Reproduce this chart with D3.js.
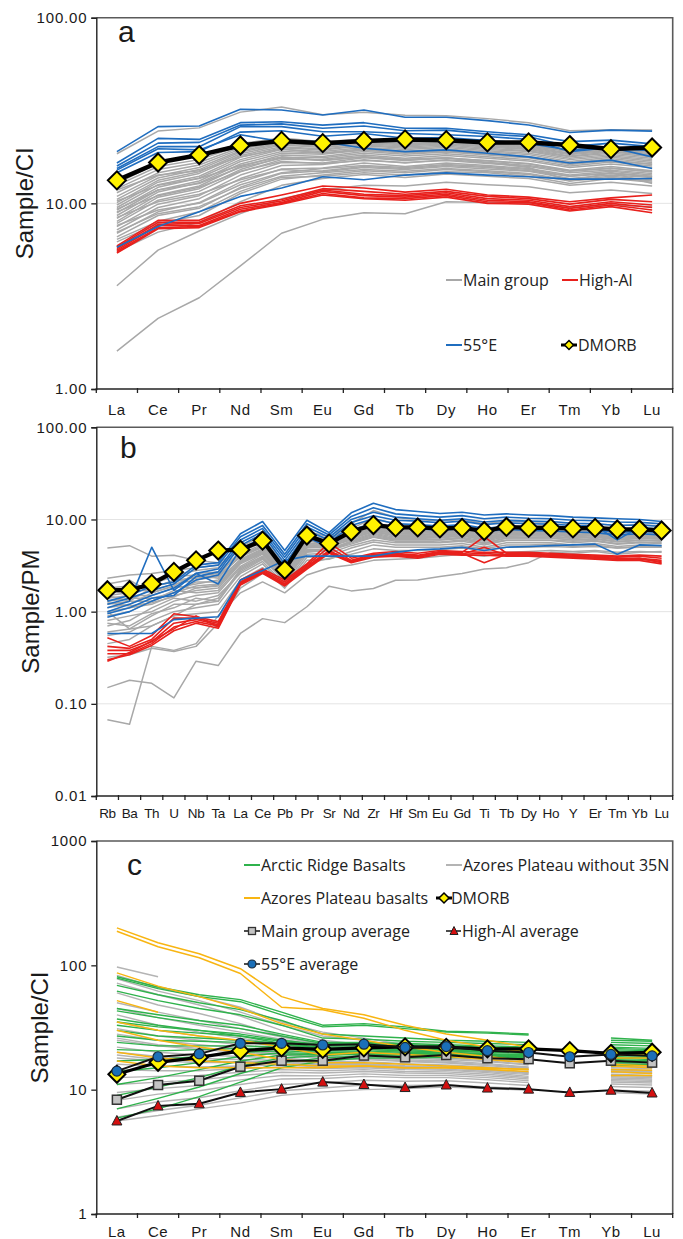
<!DOCTYPE html>
<html><head><meta charset="utf-8">
<script src="https://cdn.jsdelivr.net/npm/d3@7"></script>
<style>
body{margin:0;background:#fff;}
svg{display:block;}
</style></head><body>
<svg id="chart" width="683" height="1239"></svg>
<script>
// ---------- element lists ----------
const reeElements = ["La","Ce","Pr","Nd","Sm","Eu","Gd","Tb","Dy","Ho","Er","Tm","Yb","Lu"];
const spiderElements = ["Rb","Ba","Th","U","Nb","Ta","La","Ce","Pb","Pr","Sr","Nd","Zr","Hf","Sm","Eu","Gd","Ti","Tb","Dy","Ho","Y","Er","Tm","Yb","Lu"];

// ---------- tick labels ----------
const ticksA = [1, 10, 100];
const ticksB = [0.01, 0.1, 1, 10, 100];
const ticksC = [1, 10, 100, 1000];

// ---------- panel a : REE / chondrite ----------
const dmorbREE = [13.3, 16.6, 18.2, 20.5, 21.7, 21.1, 21.7, 22.1, 21.9, 21.3, 21.3, 20.6, 19.6, 20.0];

const mainGroupREE = [
  [1.6, 2.4, 3.1, 4.6, 6.9, 8.2, 8.9, 8.8, 10.2, 10.1, 10.0, 9.5, 9.8, 9.6],
  [3.6, 5.6, 7.1, 8.8, 10.6, 11.8, 12.5, 12.4, 13.0, 12.6, 12.3, 11.4, 11.8, 11.3],
  [5.5, 7.0, 7.9, 10.2, 12.5, 13.6, 14.3, 13.8, 14.4, 14.0, 13.6, 12.5, 13.0, 12.4],
  [6.2, 7.8, 8.6, 11.3, 13.5, 14.2, 15.0, 14.6, 15.2, 14.8, 14.3, 13.2, 13.8, 13.2],
  [6.6, 8.6, 9.4, 12.2, 14.5, 15.0, 15.8, 15.4, 16.0, 15.6, 15.0, 14.0, 14.5, 13.9],
  [6.9, 9.0, 10.1, 13.0, 15.3, 15.5, 16.5, 15.8, 16.5, 16.0, 15.4, 14.2, 14.9, 14.2],
  [7.2, 9.5, 10.6, 13.6, 16.0, 16.2, 17.2, 16.5, 17.2, 16.6, 16.0, 14.9, 15.4, 14.8],
  [7.5, 9.9, 11.0, 14.2, 16.6, 16.5, 17.6, 17.0, 17.5, 17.0, 16.4, 15.1, 15.8, 15.0],
  [7.8, 10.4, 11.6, 14.8, 17.2, 17.3, 18.2, 17.5, 18.1, 17.5, 16.9, 15.6, 16.3, 15.6],
  [8.0, 10.8, 12.0, 15.2, 17.7, 17.6, 18.6, 18.0, 18.5, 17.8, 17.2, 15.9, 16.7, 15.9],
  [8.3, 11.1, 12.4, 15.8, 18.2, 17.9, 19.0, 18.4, 18.9, 18.2, 17.6, 16.2, 17.0, 16.3],
  [8.6, 11.5, 12.9, 16.3, 18.6, 18.4, 19.4, 18.8, 19.3, 18.6, 17.9, 16.5, 17.4, 16.6],
  [8.9, 11.8, 13.2, 16.8, 19.0, 18.7, 19.7, 19.1, 19.6, 18.9, 18.3, 16.8, 17.7, 16.9],
  [9.2, 12.2, 13.7, 17.2, 19.5, 19.0, 20.0, 19.5, 20.0, 19.2, 18.6, 17.2, 18.0, 17.2],
  [9.5, 12.6, 14.0, 17.7, 19.9, 19.4, 20.4, 19.8, 20.3, 19.5, 19.0, 17.5, 18.3, 17.5],
  [9.8, 13.0, 14.5, 18.1, 20.2, 19.6, 20.6, 20.1, 20.6, 19.8, 19.2, 17.8, 18.6, 17.8],
  [10.1, 13.3, 14.8, 18.5, 20.6, 20.0, 20.9, 20.4, 20.9, 20.1, 19.5, 18.0, 18.9, 18.1],
  [10.5, 13.7, 15.2, 18.9, 20.9, 20.3, 21.2, 20.7, 21.1, 20.3, 19.7, 18.3, 19.1, 18.3],
  [10.9, 14.1, 15.6, 19.2, 21.2, 20.5, 21.4, 20.9, 21.3, 20.5, 19.9, 18.5, 19.3, 18.5],
  [11.4, 14.6, 16.1, 19.6, 21.5, 20.8, 21.6, 21.1, 21.5, 20.7, 20.1, 18.7, 19.5, 18.8],
  [12.0, 15.2, 16.6, 20.0, 21.8, 21.0, 21.8, 21.3, 21.6, 20.8, 20.3, 19.0, 19.7, 19.0],
  [12.5, 15.8, 17.2, 20.4, 22.0, 21.2, 22.0, 21.5, 21.8, 21.0, 20.5, 19.2, 19.9, 19.2],
  [8.4, 10.2, 11.2, 13.4, 15.2, 14.8, 15.6, 15.2, 15.8, 15.3, 14.9, 13.6, 14.2, 13.8],
  [7.0, 8.8, 9.6, 12.0, 14.0, 14.6, 15.2, 14.9, 15.4, 15.0, 14.5, 13.3, 14.0, 13.4],
  [9.0, 11.0, 12.2, 14.9, 16.8, 16.4, 17.0, 16.6, 17.0, 16.4, 15.8, 14.6, 15.1, 14.5],
  [10.3, 12.5, 13.6, 16.0, 17.8, 17.0, 17.8, 17.1, 17.6, 16.9, 16.3, 15.0, 15.5, 14.8],
  [6.4, 8.0, 9.0, 11.6, 13.8, 14.0, 14.6, 14.2, 14.8, 14.6, 14.0, 12.8, 13.6, 13.0],
  [11.8, 14.2, 15.0, 17.8, 19.6, 18.6, 19.4, 18.7, 19.1, 18.4, 17.7, 16.4, 17.0, 16.2],
  [18.5, 24.5, 25.5, 31.0, 33.0, 30.0, 31.0, 29.8, 29.6, 28.6, 27.2, 24.6, 24.9, 24.8],
  [9.3, 11.8, 12.8, 15.6, 17.5, 17.0, 17.8, 17.3, 17.6, 16.6, 15.6, 13.2, 14.6, 12.8],
  [7.6, 9.2, 10.0, 12.6, 14.6, 15.4, 16.0, 15.6, 16.2, 15.8, 15.2, 14.0, 14.6, 14.0],
  [12.8, 16.5, 18.0, 21.0, 22.5, 21.5, 22.2, 21.6, 22.0, 21.2, 20.7, 19.5, 20.2, 19.4]
];

const highAlREE = [
  [5.9, 8.1, 8.1, 10.0, 11.1, 12.4, 12.1, 11.5, 11.9, 11.1, 10.8, 10.2, 10.7, 11.1],
  [5.8, 7.9, 7.9, 9.7, 10.5, 12.0, 11.6, 11.2, 11.6, 10.9, 10.6, 9.9, 10.5, 10.2],
  [5.7, 7.7, 7.8, 9.5, 10.3, 11.8, 11.2, 11.0, 11.4, 10.6, 10.4, 9.6, 10.2, 9.8],
  [5.6, 7.6, 7.6, 9.3, 10.1, 11.6, 11.0, 10.8, 11.2, 10.4, 10.2, 9.4, 10.0, 9.5],
  [5.5, 7.4, 7.5, 9.1, 10.0, 11.3, 10.7, 10.6, 11.0, 10.2, 10.1, 9.2, 9.8, 9.2],
  [5.4, 7.3, 7.4, 9.0, 9.9, 11.1, 10.6, 10.4, 10.8, 10.0, 9.9, 9.1, 9.6, 8.9]
];

const e55REE = [
  [19.0, 25.9, 26.1, 32.1, 31.8, 29.9, 31.8, 29.1, 29.1, 27.9, 26.4, 24.1, 24.8, 24.5],
  [16.5, 22.4, 22.1, 27.2, 27.5, 26.4, 27.2, 25.4, 25.4, 24.3, 23.4, 21.5, 21.9, 20.9],
  [15.9, 21.1, 21.3, 26.4, 26.8, 25.4, 26.1, 24.6, 24.8, 23.6, 22.9, 20.2, 21.1, 20.2],
  [15.4, 20.2, 20.2, 25.9, 25.9, 24.3, 24.3, 23.8, 23.4, 22.9, 22.1, 19.0, 20.0, 17.8],
  [15.1, 19.7, 19.4, 23.4, 21.5, 21.5, 19.8, 19.0, 19.4, 18.6, 17.8, 16.5, 17.1, 15.4],
  [5.8, 7.5, 9.0, 10.9, 12.1, 13.9, 13.4, 14.2, 14.6, 14.2, 13.9, 13.5, 13.5, 13.6],
  [14.6, 18.8, 19.0, 24.2, 24.6, 23.0, 23.8, 22.4, 22.6, 21.8, 21.0, 19.4, 19.8, 19.2]
];

// ---------- panel b : primitive-mantle normalised ----------
const dmorbPM = [1.71, 1.71, 2.0, 2.7, 3.6, 4.6, 4.7, 5.9, 2.85, 6.7, 5.5, 7.4, 8.7, 8.2, 8.2, 8.0, 8.1, 7.5, 8.3, 8.1, 8.1, 8.0, 8.1, 7.8, 7.8, 7.6];

const mainGroupPM = [
  [0.067, 0.060, 0.42, 0.38, 0.45, 0.9, 1.6, 2.1, 1.6, 2.5, 3.0, 3.2, 3.6, 3.7, 3.8, 4.0, 4.2, 4.0, 4.4, 4.5, 4.6, 4.5, 4.6, 4.4, 4.5, 4.4],
  [0.15, 0.18, 0.167, 0.116, 0.29, 0.26, 0.58, 0.84, 0.76, 1.13, 1.89, 1.68, 1.78, 2.19, 2.2, 2.4, 2.6, 2.9, 3.0, 3.4, 4.4, 4.3, 4.5, 4.2, 4.4, 4.5],
  [0.32, 0.34, 0.40, 0.37, 0.42, 0.75, 1.8, 2.6, 2.0, 3.3, 3.8, 4.2, 4.8, 4.6, 4.6, 4.7, 4.9, 4.6, 5.0, 5.0, 5.1, 5.0, 5.1, 4.9, 5.0, 5.0],
  [4.9, 5.2, 4.0, 4.1, 3.6, 3.4, 4.6, 5.6, 3.4, 6.0, 5.2, 6.8, 7.8, 7.0, 7.0, 6.8, 7.0, 6.2, 7.0, 6.9, 6.9, 6.6, 6.7, 6.2, 6.5, 6.3],
  [0.6, 0.65, 0.9, 1.2, 1.2, 1.4, 2.8, 3.8, 2.2, 4.5, 4.6, 5.6, 6.5, 6.0, 6.0, 6.0, 6.2, 5.6, 6.3, 6.3, 6.3, 6.0, 6.2, 5.8, 6.0, 5.9],
  [0.8, 0.9, 1.0, 1.3, 1.5, 1.6, 3.0, 4.0, 2.3, 4.7, 4.8, 5.8, 6.9, 6.2, 6.2, 6.1, 6.4, 5.8, 6.5, 6.4, 6.5, 6.2, 6.4, 6.0, 6.2, 6.1],
  [1.0, 1.1, 1.2, 1.5, 1.7, 1.8, 3.3, 4.3, 2.4, 5.0, 5.0, 6.2, 7.3, 6.6, 6.5, 6.4, 6.7, 6.1, 6.8, 6.8, 6.8, 6.5, 6.7, 6.3, 6.5, 6.4],
  [1.2, 1.3, 1.3, 1.6, 1.9, 2.0, 3.5, 4.6, 2.5, 5.3, 5.3, 6.5, 7.7, 7.0, 6.9, 6.7, 7.0, 6.4, 7.1, 7.1, 7.1, 6.8, 7.0, 6.6, 6.8, 6.7],
  [1.4, 1.5, 1.5, 1.8, 2.0, 2.2, 3.7, 4.8, 2.6, 5.5, 5.6, 6.8, 8.0, 7.3, 7.2, 7.0, 7.3, 6.7, 7.4, 7.4, 7.4, 7.1, 7.3, 6.9, 7.1, 7.0],
  [1.6, 1.7, 1.7, 2.0, 2.2, 2.4, 4.0, 5.1, 2.7, 5.8, 5.8, 7.1, 8.4, 7.6, 7.5, 7.3, 7.6, 7.0, 7.7, 7.7, 7.7, 7.4, 7.6, 7.1, 7.4, 7.2],
  [1.8, 1.9, 1.9, 2.1, 2.4, 2.6, 4.2, 5.4, 2.8, 6.0, 6.0, 7.4, 8.8, 7.9, 7.8, 7.6, 7.9, 7.3, 8.0, 8.0, 8.0, 7.6, 7.8, 7.4, 7.6, 7.5],
  [0.7, 0.8, 1.1, 1.4, 1.3, 1.5, 2.6, 3.5, 2.0, 4.2, 4.3, 5.2, 6.0, 5.6, 5.6, 5.6, 5.8, 5.3, 5.9, 5.9, 5.9, 5.6, 5.8, 5.4, 5.6, 5.5],
  [0.9, 1.0, 1.3, 1.7, 1.6, 1.7, 3.1, 4.2, 2.4, 4.9, 5.1, 6.0, 7.1, 6.4, 6.4, 6.3, 6.6, 6.0, 6.6, 6.6, 6.6, 6.3, 6.5, 6.1, 6.3, 6.2],
  [1.1, 1.2, 1.6, 1.9, 1.8, 1.9, 3.4, 4.5, 2.6, 5.2, 5.4, 6.3, 7.5, 6.8, 6.7, 6.5, 6.9, 6.2, 6.9, 6.9, 6.9, 6.6, 6.8, 6.3, 6.6, 6.5],
  [1.3, 1.4, 1.4, 1.6, 2.1, 2.1, 3.6, 4.7, 2.8, 5.4, 5.5, 6.6, 7.9, 7.1, 7.0, 6.8, 7.2, 6.5, 7.2, 7.2, 7.2, 6.9, 7.1, 6.5, 6.9, 6.8],
  [1.5, 1.3, 1.8, 2.2, 2.3, 2.5, 3.9, 5.0, 3.0, 5.7, 5.9, 7.0, 8.2, 7.5, 7.4, 7.1, 7.5, 6.8, 7.6, 7.5, 7.6, 7.2, 7.4, 6.9, 7.2, 7.1],
  [0.55, 0.6, 0.8, 1.0, 1.1, 1.2, 2.4, 3.3, 1.9, 3.9, 4.0, 4.9, 5.7, 5.3, 5.3, 5.3, 5.5, 5.0, 5.6, 5.6, 5.6, 5.3, 5.5, 5.1, 5.3, 5.2],
  [2.0, 2.2, 1.6, 1.9, 2.6, 2.7, 4.4, 5.7, 3.1, 6.3, 6.2, 7.7, 9.2, 8.3, 8.1, 7.9, 8.2, 7.6, 8.3, 8.3, 8.3, 8.0, 8.1, 7.7, 7.9, 7.8],
  [1.7, 1.6, 2.0, 2.4, 2.5, 2.3, 4.1, 5.2, 2.9, 5.9, 6.1, 7.2, 8.6, 7.7, 7.6, 7.4, 7.7, 7.2, 7.8, 7.8, 7.8, 7.5, 7.7, 7.2, 7.5, 7.3],
  [0.75, 0.7, 0.95, 1.1, 1.4, 1.3, 2.9, 3.9, 2.1, 4.6, 4.7, 5.7, 6.7, 6.1, 6.1, 6.0, 6.3, 5.5, 6.3, 6.3, 6.3, 6.0, 6.1, 5.7, 5.9, 5.8],
  [1.25, 1.15, 1.25, 1.45, 1.8, 1.95, 3.4, 4.4, 2.5, 5.1, 5.2, 6.3, 7.4, 6.7, 6.7, 6.5, 6.8, 6.3, 6.9, 6.8, 6.9, 6.6, 6.8, 6.3, 6.6, 6.5],
  [0.45, 0.5, 0.7, 0.9, 0.95, 1.0, 2.2, 3.0, 1.8, 3.6, 3.7, 4.5, 5.3, 5.0, 5.0, 5.0, 5.2, 4.8, 5.3, 5.3, 5.4, 5.1, 5.3, 4.9, 5.1, 5.0],
  [1.5, 1.6, 2.2, 2.5, 2.8, 3.0, 5.0, 6.8, 3.2, 7.4, 6.5, 9.0, 12.5, 10.5, 10.0, 9.6, 10.0, 9.0, 9.6, 9.4, 9.4, 9.0, 9.0, 8.6, 8.8, 8.5],
  [2.3, 2.5, 2.6, 2.8, 3.0, 3.2, 4.6, 6.0, 3.3, 6.6, 6.3, 8.0, 10.2, 9.0, 8.6, 8.3, 8.6, 7.9, 8.6, 8.5, 8.5, 8.2, 8.3, 7.8, 8.1, 7.9],
  [1.0, 0.65, 0.7, 0.9, 1.2, 1.3, 2.7, 3.7, 2.2, 4.4, 4.6, 5.4, 6.4, 5.8, 5.8, 5.7, 6.0, 5.5, 6.0, 6.0, 6.0, 5.8, 5.9, 5.5, 5.7, 5.6]
];

const highAlPM = [
  [0.52, 0.42, 0.55, 0.95, 0.88, 0.78, 2.2, 2.9, 2.2, 3.3, 5.6, 3.8, 4.3, 4.5, 4.3, 4.6, 4.5, 4.4, 4.4, 4.4, 4.3, 4.2, 4.1, 4.0, 4.1, 4.0],
  [0.42, 0.40, 0.50, 0.85, 0.85, 0.75, 2.1, 2.8, 2.1, 3.2, 5.0, 3.6, 4.2, 4.3, 4.1, 4.5, 4.4, 6.5, 4.3, 4.3, 4.2, 4.1, 4.0, 3.9, 4.0, 3.8],
  [0.38, 0.38, 0.47, 0.75, 0.82, 0.72, 2.05, 2.7, 2.0, 3.1, 4.6, 3.5, 4.1, 4.2, 4.0, 4.4, 4.3, 3.4, 4.2, 4.2, 4.1, 4.0, 3.9, 3.8, 3.8, 3.6],
  [0.35, 0.35, 0.45, 0.68, 0.78, 0.70, 2.0, 2.65, 1.95, 3.0, 4.4, 3.45, 4.0, 4.1, 3.9, 4.3, 4.2, 4.3, 4.1, 4.1, 4.0, 3.9, 3.8, 3.7, 3.7, 3.5],
  [0.30, 0.34, 0.43, 0.62, 0.75, 0.66, 1.95, 2.6, 1.9, 2.9, 4.3, 3.4, 3.9, 4.0, 3.8, 4.2, 4.1, 4.1, 4.0, 4.0, 3.9, 3.8, 3.7, 3.6, 3.6, 3.3],
  [0.29, 0.36, 0.48, 0.65, 0.9, 0.68, 2.0, 2.7, 2.0, 3.0, 4.5, 3.5, 4.0, 4.1, 4.0, 4.3, 4.2, 5.0, 4.1, 4.1, 4.0, 3.9, 3.8, 3.7, 3.8, 3.4]
];

const e55PM = [
  [1.3, 1.5, 1.9, 2.1, 3.2, 3.4, 7.0, 9.5, 4.6, 9.8, 7.2, 11.8, 15.0, 12.8, 12.2, 11.6, 12.0, 11.2, 11.5, 11.2, 11.0, 10.6, 10.4, 10.2, 10.0, 9.5],
  [1.2, 1.4, 1.7, 2.0, 3.0, 3.2, 6.5, 8.6, 4.2, 9.0, 6.8, 10.8, 13.4, 11.5, 11.0, 10.6, 11.0, 10.2, 10.6, 10.3, 10.2, 9.8, 9.7, 9.4, 9.3, 9.0],
  [1.1, 1.3, 5.0, 1.7, 2.6, 2.9, 6.0, 8.0, 3.9, 8.3, 6.4, 10.0, 12.0, 10.6, 10.2, 9.8, 10.2, 9.4, 9.8, 9.6, 9.5, 9.1, 9.0, 8.6, 8.7, 8.4],
  [0.95, 1.1, 1.4, 1.5, 2.4, 2.7, 5.6, 7.4, 3.6, 7.6, 6.0, 9.3, 11.0, 9.8, 9.6, 9.2, 9.6, 8.8, 9.2, 9.0, 8.9, 8.6, 8.5, 6.0, 8.2, 7.8],
  [0.87, 1.0, 1.3, 1.6, 2.2, 2.5, 5.2, 7.0, 3.3, 7.0, 5.6, 8.6, 10.2, 9.0, 8.8, 8.5, 8.8, 8.0, 8.4, 8.3, 8.2, 7.9, 7.8, 7.2, 7.5, 7.2],
  [0.58, 0.58, 0.58, 0.82, 0.85, 0.88, 2.2, 2.8, 3.6, 4.0, 4.0, 4.0, 4.0, 4.4, 4.7, 4.8, 5.0, 4.6, 5.0, 5.1, 5.2, 5.3, 5.4, 4.2, 5.3, 5.2],
  [1.0, 1.2, 1.5, 1.8, 2.6, 2.0, 4.8, 6.3, 3.0, 6.4, 5.0, 7.8, 9.0, 8.2, 8.0, 7.6, 8.0, 7.4, 7.8, 7.6, 7.5, 7.3, 7.2, 6.8, 7.0, 6.8]
];

// ---------- panel c : comparison with other Atlantic/Arctic basalts ----------
const azoresWithout35N = [
  [97, 81, null, null, null, null, null, null, null, null, null, null, null, null],
  [83, 66, 56, 46, 35, 29, 26, 23, 21, 19.5, 18, null, 17, 16.5],
  [78, 62, 52, 42, 33, 27, 25, 22, 20.5, 19, 17.5, null, 16.5, 16],
  [72, 58, 48, 39, 30, 25, 23, 21, 20, 18.5, 17, null, 16, 15.5],
  [60, 48, 41, 34, 27, 23, 21.5, 20, 19, 18, 16.5, null, 15.5, 15],
  [50, 42, 36, 31, 26.5, 23, 22, 20.5, 19.5, 18.5, 17.2, null, 16.4, 16],
  [45, 38, 33, 29, 25.5, 22.5, 21.5, 20, 19.3, 18.2, 17, null, 16.2, 15.8],
  [40, 33, 29, 26, 23, 21, 20, 19, 18.5, 17.5, 16.5, null, 15.8, 15.5],
  [35, 30, 27, 24.5, 22, 20, 19.5, 18.5, 18, 17, 16, null, 15.5, 15],
  [31, 27, 25, 23, 21, 19.5, 19, 18, 17.5, 16.8, 15.8, null, 15, 14.8],
  [28, 25, 23, 21.5, 20, 18.5, 18.2, 17.4, 17, 16.2, 15.2, null, 14.6, 14.3],
  [26, 23, 21.5, 20.5, 19.5, 18, 17.8, 17, 16.6, 15.9, 15, null, 14.4, 14],
  [25, 22.5, 21, 20, 19, 17.8, 17.5, 16.8, 16.4, 15.6, 14.8, null, 14.2, 13.8],
  [22, 20, 19, 18.5, 18, 17, 16.8, 16.2, 15.8, 15.2, 14.4, null, 13.8, 13.5],
  [20, 18.5, 17.8, 17.5, 17.2, 16.3, 16.2, 15.6, 15.3, 14.6, 13.8, null, 13.3, 13],
  [19, 17.5, 17, 16.8, 16.8, 16, 16, 15.4, 15.1, 14.4, 13.6, null, 13.1, 12.9],
  [18, 17, 16.5, 16.5, 16.5, 15.8, 15.8, 15.2, 15, 14.3, 13.5, null, 13, 12.8],
  [16, 15.5, 15.2, 15.5, 15.8, 15.2, 15.3, 14.8, 14.6, 14, 13.2, null, 12.7, 12.5],
  [14.5, 14.2, 14.2, 14.8, 15.2, 14.8, 15, 14.5, 14.3, 13.7, 12.8, null, 12.4, 12.2],
  [12.5, 12.8, 13, 13.8, 14.5, 14.2, 14.5, 14, 13.9, 13.3, 12.5, null, 12.1, 11.9],
  [11, 11.5, 12, 13, 13.8, 13.6, 14, 13.6, 13.5, 12.9, 12.2, null, 11.8, 11.6],
  [9.5, 10.2, 10.8, 12, 13, 12.9, 13.4, 13, 13, 12.5, 11.8, null, 11.5, 11.3],
  [8.2, 9.2, 9.8, 11, 12.2, 12.3, 12.8, 12.5, 12.5, 12, 11.4, null, 11.1, 10.9],
  [7, 8, 8.6, 9.8, 11, 11.4, 11.9, 11.7, 11.8, 11.3, 10.8, null, 10.6, 10.4],
  [6, 6.8, 7.5, 8.6, 9.8, 10.3, 10.9, 10.8, 10.9, 10.5, 10.2, null, 9.9, 9.7],
  [5.6, 6.2, 7.0, 7.8, 9.0, 9.6, 10.0, 10.2, 10.5, 10.2, 9.9, null, 9.5, 9.2]
];

const arcticRidge = [
  [81, 67, 58, 53, 42, 33, 34, 32, 29.5, 29, 28, null, 26, 25],
  [79, 65, 56, 51, 40, 32, 33, 31, 29, 28.5, 27.5, null, 25, 24.5],
  [69, 58, 50, 44, 36, 28, 27, 26, 25, 24.5, 24, null, 24, 23.5],
  [62, 52, 45, 40, 33, 26, 25.5, 24.5, 24, 23.5, 23, null, 23, 22.5],
  [45, 40, 36, 33, 28, 24, 24, 23.5, 23, 22.5, 22, null, 22, 21.5],
  [43, 38, 34, 31, 27, 23.5, 23.5, 23, 22.5, 22, 21.5, null, 21.5, 21],
  [37, 33, 30, 27, 23.5, 21.5, 21.5, 21, 20.8, 20.3, 19.8, null, null, null],
  [35, 32, 30, 28, 25, 23, 23, 22.5, 22, 21.5, 21, null, 21, 20.5],
  [33, 30, 28.5, 27, 24.5, 22.5, 22.5, 22, 21.5, 21, 20.5, null, 20.5, 20],
  [30, 27, 26, 25, 23.5, 22, 22, 21.5, 21, 20.5, 20, null, 20, 19.5],
  [27, 25, 24.5, 24, 23, 21.5, 21.5, 21, 20.5, 20, 19.5, null, 19.5, 19],
  [24, 22.5, 22.5, 22.5, 22, 21, 21, 20.5, 20, 19.5, 19, null, 19, 18.5],
  [21, 20.5, 21, 21.5, 21.5, 20.5, 20.5, 20, 19.8, 19.2, 18.8, null, 18.5, 18],
  [17, 17.5, 18.5, 20, 20.5, 20, 20, 19.6, 19.4, 19, 18.6, null, 18, 17.5],
  [14, 15, 16.5, 18.5, 19.8, 19.5, 19.8, 19.3, 19.2, 18.8, 18.4, null, 17.5, 17],
  [11, 12.5, 14.5, 17, 19, 19.2, 19.5, 19.2, 19, 18.6, 18.2, null, 17, 16.8],
  [9, 10.5, 12.5, 15.5, 18, 18.8, 19.3, 19, 18.9, 18.5, 18.1, null, 16.5, 16.5],
  [7, 8.5, 10.5, 13.5, 16.5, 18, 18.8, 18.6, 18.6, 18.3, 18, null, 16, 16],
  [5.9, 7.0, 8.8, 11.5, 15, 17, 18, 18, 18.2, 18, 17.8, null, 15.5, 15.8]
];

const azoresPlateau = [
  [200, 152, 124, 94, 56, 45, 40, 33, 28, 25, 22, null, 19, 19],
  [188, 141, 115, 86, 46, 44, 37.5, 30, 25, 22, 20, null, 18, 18],
  [87, 68, 56, 45, 34, 28, 25, 22, 20, 18.5, 17, null, 16, 15.5],
  [52, 42, null, null, null, null, null, null, null, null, null, null, null, null],
  [35, 30, 27, 25, 22, 19, 20, 19.2, 18.5, 17.5, 16.5, null, 15.5, 15],
  [30, 25, 22, 20, 17.5, 16.5, 16.5, 16, 15.5, 15, 14.5, null, 14, 13.5],
  [20, 18, 17, 16.5, 16, 15.5, 15.5, 15, 15, 14.5, 14, null, 13, 13],
  [17, 15.5, 15, 15, 15, 15, 15.5, 15, 15, 14.8, 14.6, null, 14.5, 14.3]
];

const mainGroupAvg = [8.3, 10.9, 11.8, 15.3, 17.1, 17.1, 18.8, 18.2, 19.0, 17.9, 17.6, 16.3, 17.1, 16.5];
const highAlAvg = [5.6, 7.4, 7.7, 9.5, 10.1, 11.5, 11.0, 10.4, 10.9, 10.3, 10.1, 9.5, 9.9, 9.4];
const e55Avg = [14.1, 18.4, 19.4, 23.6, 23.6, 22.9, 23.2, 21.9, 22.2, 20.6, 19.9, 18.4, 19.2, 18.7];

// ---------- styling ----------
const GREY = "#a8a8a8", RED = "#e8201c", BLUE = "#1f6dbf", GREEN = "#2fb24c", ORANGE = "#f8b512", YELLOW = "#fff200";
const PLOT_L = 96.3, PLOT_R = 672.7;
const svg = d3.select("#chart");

function makePanel(cfg) {
  const g = svg.append("g");
  const x = d3.scaleBand().domain(cfg.cats).range([PLOT_L, PLOT_R]);
  const y = d3.scaleLog().domain(cfg.domain).range([cfg.bottom, cfg.top]);
  const cx = i => x(cfg.cats[i]) + x.bandwidth() / 2;

  if (cfg.grid) {
    g.selectAll("line.grid").data(cfg.ticks.slice(1, -1)).join("line")
      .attr("x1", PLOT_L).attr("x2", PLOT_R)
      .attr("y1", d => y(d)).attr("y2", d => y(d))
      .attr("stroke", "#e4e4e4").attr("stroke-width", 1);
  }
  // frame (top / right)
  g.append("path")
    .attr("d", `M${PLOT_L},${cfg.top}H${PLOT_R}V${cfg.bottom}`)
    .attr("fill", "none").attr("stroke", "#5a5a5a").attr("stroke-width", 1.6);

  const plot = g.append("g");

  // y axis
  const yAxis = d3.axisLeft(y).tickValues(cfg.ticks).tickFormat(cfg.fmt).tickSize(5).tickPadding(4);
  const ya = g.append("g").attr("transform", `translate(${PLOT_L},0)`).call(yAxis);
  ya.select(".domain").attr("stroke", "#222").attr("stroke-width", 1.4);
  ya.selectAll(".tick line").attr("stroke", "#222").attr("stroke-width", 1.3);
  ya.selectAll(".tick text").attr("fill", "#1a1a1a")
    .style("font-family", "'Liberation Sans', Arial, sans-serif")
    .style("font-size", cfg.yFont + "px").style("letter-spacing", cfg.ySpacing + "px");

  // x axis: category boundaries carry the ticks, labels sit in the band centres
  const xa = g.append("g");
  xa.append("line").attr("x1", PLOT_L).attr("x2", PLOT_R)
    .attr("y1", cfg.bottom).attr("y2", cfg.bottom).attr("stroke", "#222").attr("stroke-width", 1.4);
  const bounds = cfg.cats.map(c => x(c)).concat([PLOT_R]);
  xa.selectAll("line.tk").data(bounds).join("line")
    .attr("x1", d => d).attr("x2", d => d)
    .attr("y1", cfg.bottom - 1).attr("y2", cfg.bottom + 4)
    .attr("stroke", "#222").attr("stroke-width", 1.3);
  xa.selectAll("text").data(cfg.cats).join("text")
    .attr("x", (d, i) => cx(i)).attr("y", cfg.labelY)
    .attr("text-anchor", "middle")
    .style("font-family", cfg.xFamily || "'Liberation Sans', Arial, sans-serif")
    .style("font-size", cfg.xFont + "px")
    .style("letter-spacing", (cfg.xSpacing || 0) + "px")
    .attr("fill", "#1a1a1a").text(d => d);

  // axis title
  g.append("text")
    .attr("transform", `translate(${cfg.titleX},${(cfg.top + cfg.bottom) / 2}) rotate(-90)`)
    .attr("text-anchor", "middle")
    .style("font-family", "'Liberation Sans', Arial, sans-serif")
    .style("font-size", "24px").attr("fill", "#1a1a1a").text(cfg.title);

  // panel letter
  g.append("text").attr("x", cfg.letterX).attr("y", cfg.letterY)
    .style("font-family", "'Liberation Sans', Arial, sans-serif")
    .style("font-size", "30px").attr("fill", "#1a1a1a").text(cfg.letter);

  const line = d3.line().defined(v => v != null).x((v, i) => cx(i)).y(v => y(v));
  return { plot, x, y, cx, line, g };
}

function drawGroup(p, data, color, width) {
  p.plot.append("g").selectAll("path").data(data).join("path")
    .attr("d", p.line).attr("fill", "none")
    .attr("stroke", color).attr("stroke-width", width).attr("stroke-linejoin", "round");
}

function diamondPath(s) { return `M0,${-s}L${s},0L0,${s}L${-s},0Z`; }

function drawDMORB(p, data, lw, s) {
  const gg = p.plot.append("g");
  gg.append("path").attr("d", p.line(data)).attr("fill", "none")
    .attr("stroke", "#000").attr("stroke-width", lw).attr("stroke-linejoin", "round");
  gg.selectAll("path.m").data(data).join("path").attr("class", "m")
    .attr("transform", (d, i) => `translate(${p.cx(i)},${p.y(d)})`)
    .attr("d", diamondPath(s)).attr("fill", YELLOW).attr("stroke", "#000").attr("stroke-width", 2);
}

const legendFont = "'Open Sans', sans-serif";
function legendText(g, x, y, t) {
  g.append("text").attr("x", x).attr("y", y + 5.5)
    .style("font-family", legendFont).style("font-size", "16px").attr("fill", "#222").text(t);
}
function legendLine(g, x1, x2, y, color, w) {
  g.append("line").attr("x1", x1).attr("x2", x2).attr("y1", y).attr("y2", y)
    .attr("stroke", color).attr("stroke-width", w || 2);
}

// ================= panel a =================
const pa = makePanel({
  cats: reeElements, domain: [1, 100], top: 17.7, bottom: 389, ticks: ticksA,
  fmt: d3.format(".2f"), grid: true, yFont: 15, ySpacing: 0.8,
  labelY: 414.5, xFont: 15, xSpacing: 0.5,
  title: "Sample/CI", titleX: 33, letter: "a", letterX: 118, letterY: 42
});
drawGroup(pa, mainGroupREE, GREY, 1.5);
drawGroup(pa, highAlREE, RED, 1.6);
drawGroup(pa, e55REE, BLUE, 1.6);
drawDMORB(pa, dmorbREE, 4.5, 9);

const la = pa.g.append("g");
legendLine(la, 446, 462, 280, GREY);
legendText(la, 463, 280, "Main group");
legendLine(la, 562, 578, 280, RED);
legendText(la, 579, 280, "High-Al");
legendLine(la, 446, 462, 345, BLUE);
legendText(la, 463, 345, "55°E");
legendLine(la, 561, 577, 345, "#000", 3);
la.append("path").attr("transform", "translate(569,345)").attr("d", diamondPath(4.5))
  .attr("fill", YELLOW).attr("stroke", "#000").attr("stroke-width", 1.5);
legendText(la, 578, 345, "DMORB");

// ================= panel b =================
const pb = makePanel({
  cats: spiderElements, domain: [0.01, 100], top: 427.3, bottom: 796, ticks: ticksB,
  fmt: d3.format(".2f"), grid: true, yFont: 15, ySpacing: 0.8,
  labelY: 818.3, xFont: 13.5, xSpacing: -0.4,
  title: "Sample/PM", titleX: 39, letter: "b", letterX: 120, letterY: 458
});
drawGroup(pb, mainGroupPM, GREY, 1.5);
drawGroup(pb, highAlPM, RED, 1.6);
drawGroup(pb, e55PM, BLUE, 1.6);
drawDMORB(pb, dmorbPM, 4.2, 9);

// ================= panel c =================
const pc = makePanel({
  cats: reeElements, domain: [1, 1000], top: 841, bottom: 1214, ticks: ticksC,
  fmt: d3.format("d"), grid: false, yFont: 15, ySpacing: 0.8,
  labelY: 1237, xFont: 15, xSpacing: 0.5,
  title: "Sample/CI", titleX: 48, letter: "c", letterX: 127, letterY: 875
});
drawGroup(pc, azoresWithout35N, "#b4b4b4", 1.4);
drawGroup(pc, arcticRidge, GREEN, 1.4);
drawGroup(pc, azoresPlateau, ORANGE, 1.5);

function avgSeries(p, data, shape) {
  const gg = p.plot.append("g");
  gg.append("path").attr("d", p.line(data)).attr("fill", "none").attr("stroke", "#111").attr("stroke-width", 2);
  const pts = gg.selectAll("g.pt").data(data).join("g")
    .attr("transform", (d, i) => `translate(${p.cx(i)},${p.y(d)})`);
  shape(pts);
}
const squareShape = sel => sel.append("rect").attr("x", -4.5).attr("y", -4.5).attr("width", 9).attr("height", 9)
  .attr("fill", "#c4c4c4").attr("stroke", "#333").attr("stroke-width", 1.5);
const triangleShape = sel => sel.append("path").attr("d", "M0,-5.5L5,4L-5,4Z")
  .attr("fill", "#d40f0f").attr("stroke", "#222").attr("stroke-width", 1);
const circleShape = sel => sel.append("circle").attr("r", 5)
  .attr("fill", "#1b6fb8").attr("stroke", "#1a2a3a").attr("stroke-width", 1.2);

avgSeries(pc, mainGroupAvg, squareShape);
avgSeries(pc, highAlAvg, triangleShape);
drawDMORB(pc, dmorbREE, 3.2, 8.5);
avgSeries(pc, e55Avg, circleShape);

const lc = pc.g.append("g");
legendLine(lc, 244, 260, 865, GREEN);
legendText(lc, 261, 865, "Arctic Ridge Basalts");
legendLine(lc, 446, 462, 865, "#b4b4b4");
legendText(lc, 463, 865, "Azores Plateau without 35N");
legendLine(lc, 244, 260, 898, ORANGE);
legendText(lc, 261, 898, "Azores Plateau basalts");
legendLine(lc, 436, 452, 898, "#000", 3);
lc.append("path").attr("transform", "translate(444,898)").attr("d", diamondPath(5))
  .attr("fill", YELLOW).attr("stroke", "#000").attr("stroke-width", 1.5);
legendText(lc, 451, 898, "DMORB");

legendLine(lc, 244, 260, 931, "#111", 1.5);
lc.append("rect").attr("x", 248.5).attr("y", 927.5).attr("width", 7).attr("height", 7)
  .attr("fill", "#c4c4c4").attr("stroke", "#333").attr("stroke-width", 1.3);
legendText(lc, 261, 931, "Main group average");
legendLine(lc, 446, 461, 931, "#111", 1.5);
lc.append("path").attr("transform", "translate(454,931)").attr("d", "M0,-4.5L4,3.5L-4,3.5Z")
  .attr("fill", "#d40f0f").attr("stroke", "#222").attr("stroke-width", 1);
legendText(lc, 462, 931, "High-Al average");

legendLine(lc, 244, 260, 964, "#111", 1.5);
lc.append("circle").attr("cx", 252).attr("cy", 964).attr("r", 4)
  .attr("fill", "#1b6fb8").attr("stroke", "#1a2a3a").attr("stroke-width", 1.2);
legendText(lc, 261, 964, "55°E average");
</script></body></html>
